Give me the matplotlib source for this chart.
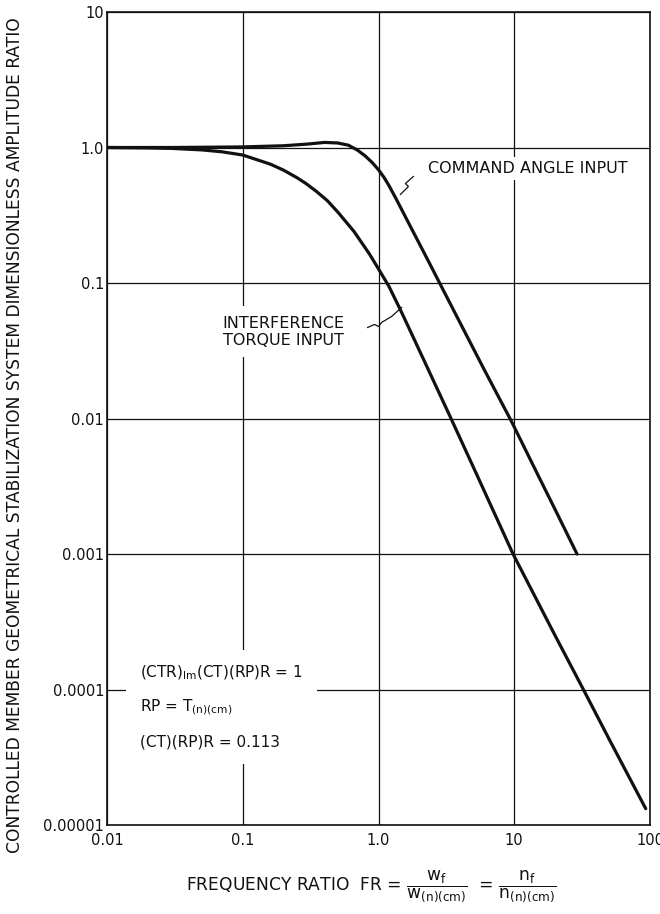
import numpy as np
import matplotlib.pyplot as plt

# Curves (log-log axes)
cmd_x = [0.01, 0.03, 0.1, 0.2, 0.3, 0.4, 0.5, 0.6, 0.7, 0.8, 0.9, 1.0, 1.1, 1.2,
         1.35, 1.6, 2.0, 2.4, 2.75, 4.0, 6.0, 9.5, 15, 20, 29]
cmd_y = [1.0, 1.0, 1.01, 1.03, 1.06, 1.09, 1.08, 1.04, 0.956, 0.865, 0.773, 0.685, 0.60,
         0.519, 0.417, 0.30, 0.195, 0.137, 0.105, 0.0506, 0.023, 0.0096, 0.0038, 0.00213,
         0.001]

trq_x = [0.01, 0.02, 0.03, 0.05, 0.07, 0.1, 0.16, 0.2, 0.25, 0.29, 0.35, 0.42, 0.5,
         0.66, 0.86, 1.0, 1.19, 1.46, 2.0, 3.36, 5.0, 9.8, 20, 33, 50, 93]
trq_y = [1.0, 0.993, 0.985, 0.96, 0.93, 0.88, 0.753, 0.68, 0.60, 0.545, 0.473, 0.405, 0.335,
         0.24, 0.163, 0.127, 0.095, 0.0625, 0.0318, 0.0104, 0.00437, 0.001, 0.00025,
         9.6e-5, 4.3e-5, 1.32e-5]

x_ticks = [0.01, 0.1, 1, 10, 100]
x_tick_labels = ['0.01', '0.1', '1.0', '10', '100']
y_ticks = [1e-5, 1e-4, 1e-3, 1e-2, 1e-1, 1, 10]
y_tick_labels = ['0.00001', '0.0001', '0.001', '0.01', '0.1', '1.0', '10']

ink = '#111111'
W, H = 660, 914

fig = plt.figure(figsize=(W / 100, H / 100), dpi=100)
ax = fig.add_axes([107 / W, 1 - 825 / H, 543 / W, 813 / H])

ax.set_xscale('log')
ax.set_yscale('log')
ax.set_xlim(0.01, 100)
ax.set_ylim(1e-5, 10)

ax.set_xticks(x_ticks, x_tick_labels)
ax.set_yticks(y_ticks, y_tick_labels)
ax.minorticks_off()
ax.tick_params(length=0, labelsize=10.5, colors=ink)
ax.tick_params(axis='x', pad=6)
ax.tick_params(axis='y', pad=2)
ax.grid(True, color=ink, lw=0.9)
for s in ax.spines.values():
    s.set_color(ink)
    s.set_linewidth(1.2)

# the curves
ax.plot(cmd_x, cmd_y, color=ink, lw=2.3, solid_capstyle='round', zorder=3)
ax.plot(trq_x, trq_y, color=ink, lw=2.3, solid_capstyle='round', zorder=3)

# labels with white background (they break the grid lines)
ax.text(2.32, 0.70, 'COMMAND ANGLE INPUT', fontsize=11.5, color=ink,
        ha='left', va='center', bbox=dict(facecolor='white', edgecolor='none', pad=3),
        zorder=2)
ax.text(0.198, 0.0436, 'INTERFERENCE\nTORQUE INPUT', fontsize=11.5, color=ink,
        ha='center', va='center', multialignment='center', linespacing=1.15,
        bbox=dict(facecolor='white', edgecolor='none', pad=7), zorder=2)


def zigzag(anchor, offsets):
    # little lightning-bolt leader, offsets in pixels from a point on the curve
    px, py = ax.transData.transform(anchor)
    pts = [(px + dx, py + dy) for dx, dy in offsets]
    data = ax.transData.inverted().transform(pts)
    ax.plot(data[:, 0], data[:, 1], color=ink, lw=0.9, zorder=4)


zigzag((1.45, 0.45), [(0, 0), (8, 8), (5, 11), (13, 18)])
zigzag((1.48, 0.066), [(0, 0), (-10, -9), (-20, -15), (-23, -19), (-27, -17), (-34, -20)])

# parameter block, lower left
pbox = dict(facecolor='white', edgecolor='none', pad=10)
ax.text(0.0175, 1.33e-4, r'(CTR)$_{\mathrm{Im}}$(CT)(RP)R = 1', fontsize=11, color=ink,
        ha='left', va='center', bbox=pbox, zorder=2)
ax.text(0.0175, 7.4e-5, r'RP = T$_{\mathrm{(n)(cm)}}$', fontsize=11, color=ink,
        ha='left', va='center', bbox=pbox, zorder=2)
ax.text(0.0175, 4.07e-5, '(CT)(RP)R = 0.113', fontsize=11, color=ink,
        ha='left', va='center', bbox=pbox, zorder=2)

# axis titles
fig.text(371 / W, 1 - 886 / H,
         r'FREQUENCY RATIO  FR = $\dfrac{\mathrm{w}_{\mathrm{f}}}{\mathrm{w}_{\mathrm{(n)(cm)}}}$'
         r'  = $\dfrac{\mathrm{n}_{\mathrm{f}}}{\mathrm{n}_{\mathrm{(n)(cm)}}}$',
         fontsize=12.3, color=ink, ha='center', va='center')
fig.text(15 / W, 1 - 435 / H,
         'CONTROLLED MEMBER GEOMETRICAL STABILIZATION SYSTEM DIMENSIONLESS AMPLITUDE RATIO',
         fontsize=12.3, color=ink, rotation=90, ha='center', va='center')

fig.savefig('out.png', dpi=100, facecolor='white')
